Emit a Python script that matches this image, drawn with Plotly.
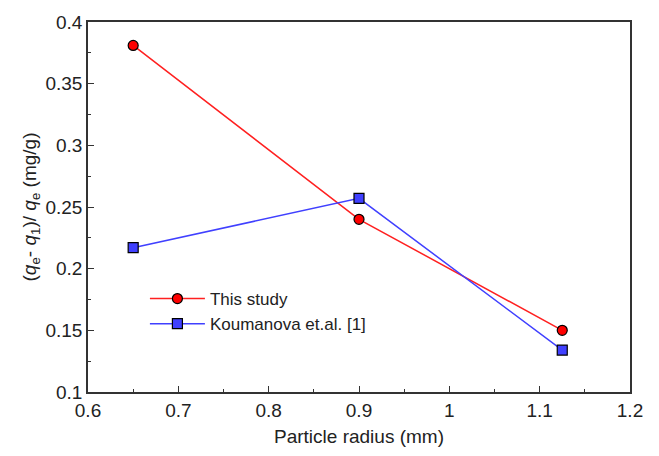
import plotly.graph_objects as go

radius = [0.65, 0.9, 1.125]
this_study = [0.381, 0.240, 0.150]
koumanova = [0.217, 0.257, 0.134]

fig = go.Figure()
fig.add_trace(go.Scatter(x=radius, y=this_study, mode="lines+markers", name="This study",
                         line=dict(color="#ff2020", width=1.5),
                         marker=dict(symbol="circle", size=10, color="#ff0000",
                                     line=dict(color="black", width=1.2))))
fig.add_trace(go.Scatter(x=radius, y=koumanova, mode="lines+markers", name="Koumanova et.al. [1]",
                         line=dict(color="#4040ff", width=1.5),
                         marker=dict(symbol="square", size=10, color="#4040ff",
                                     line=dict(color="black", width=1.2))))

font = "Liberation Sans, Arial, sans-serif"
fig.update_layout(
    width=659, height=456,
    margin=dict(l=88, r=29, t=22, b=64),
    paper_bgcolor="white", plot_bgcolor="white",
    font=dict(family=font, size=18, color="#222"),
    showlegend=True,
    legend=dict(x=0.105, y=0.30, xanchor="left", yanchor="top",
                bgcolor="rgba(0,0,0,0)", font=dict(size=17),
                tracegroupgap=0, itemwidth=55),
    xaxis=dict(range=[0.6, 1.2], dtick=0.1, tick0=0.6, showgrid=False, zeroline=False,
               showline=True, linecolor="#333", linewidth=1.5, mirror=True,
               ticks="inside", ticklen=6, tickcolor="#333",
               tickfont=dict(size=19),
               minor=dict(ticks="inside", ticklen=3, dtick=0.05, tickcolor="#333"),
               title=dict(text="Particle radius (mm)", font=dict(size=19), standoff=10)),
    yaxis=dict(range=[0.1, 0.4], dtick=0.05, tick0=0.1, showgrid=False, zeroline=False,
               showline=True, linecolor="#333", linewidth=1.5, mirror=True,
               ticks="inside", ticklen=6, tickcolor="#333",
               tickfont=dict(size=19),
               minor=dict(ticks="inside", ticklen=3, dtick=0.025, tickcolor="#333"),
               title=dict(text="(<i>q</i><sub>e</sub>- <i>q</i><sub>1</sub>)/ <i>q</i><sub>e</sub> (mg/g)",
                          font=dict(size=19), standoff=4)),
)
fig.write_html("out.html")
